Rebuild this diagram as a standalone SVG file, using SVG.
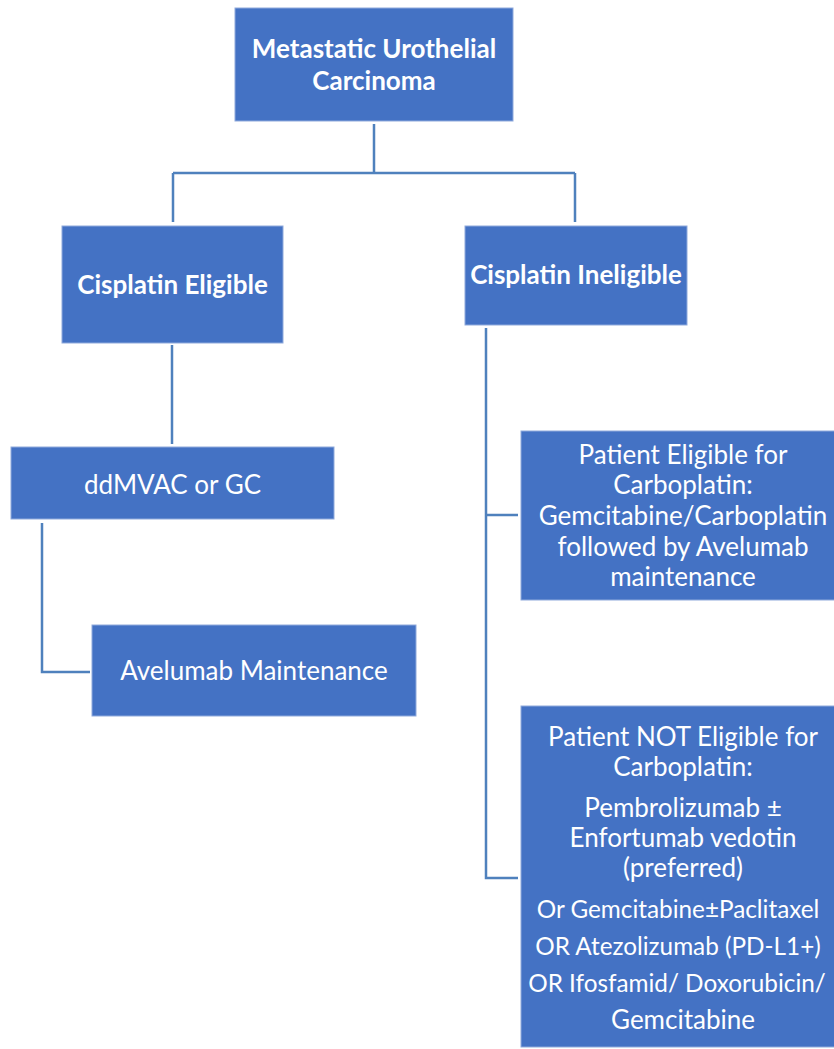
<svg xmlns="http://www.w3.org/2000/svg" width="834" height="1049" viewBox="0 0 834 1049">
<style>
.box{fill:#4472C4;stroke:#8FAADC;stroke-width:1}
.t{font-family:Lato,"Open Sans",sans-serif;font-size:26px;fill:#fff;text-anchor:middle}
.s{font-size:24.3px}
.b{font-weight:bold}
.c{fill:none;stroke:#4F81BD;stroke-width:2.5}
</style>
<rect width="834" height="1049" fill="#fff"/>
<g id="connectors">
<path class="c" d="M374,124 V173 M173,173 H575 M173,173 V222 M575,173 V222"/>
<path class="c" d="M172,345 V444"/>
<path class="c" d="M42,523 V672 H90"/>
<path class="c" d="M486,328 V878 H518 M486,515 H518"/>
</g>
<g id="n1"><rect class="box" x="235" y="8" width="278" height="113"/>
<text class="t b" x="374" y="58">Metastatic Urothelial</text><text class="t b" x="374" y="90">Carcinoma</text></g>
<g id="n2"><rect class="box" x="62" y="226" width="221" height="117"/>
<text class="t b" x="172.5" y="294">Cisplatin Eligible</text></g>
<g id="n3"><rect class="box" x="465" y="226" width="222" height="99"/>
<text class="t b" x="576" y="284">Cisplatin Ineligible</text></g>
<g id="n4"><rect class="box" x="11" y="447" width="323" height="72"/>
<text class="t" x="172.5" y="494">ddMVAC or GC</text></g>
<g id="n5"><rect class="box" x="92" y="625" width="324" height="91"/>
<text class="t" x="254" y="680">Avelumab Maintenance</text></g>
<g id="n6"><rect class="box" x="521" y="431" width="324" height="169"/>
<text class="t" x="683" y="464">Patient Eligible for</text>
<text class="t" x="683" y="494">Carboplatin:</text>
<text class="t" x="683" y="525">Gemcitabine/Carboplatin</text>
<text class="t" x="683" y="556">followed by Avelumab</text>
<text class="t" x="683" y="586">maintenance</text></g>
<g id="n7"><rect class="box" x="521" y="706" width="324" height="341"/>
<text class="t" x="683" y="746">Patient NOT Eligible for</text>
<text class="t" x="683" y="776">Carboplatin:</text>
<text class="t" x="683" y="817">Pembrolizumab ±</text>
<text class="t" x="683" y="847">Enfortumab vedotin</text>
<text class="t" x="683" y="877">(preferred)</text>
<text class="t s" x="678" y="918">Or Gemcitabine±Paclitaxel</text>
<text class="t s" x="678" y="955">OR Atezolizumab (PD-L1+)</text>
<text class="t s" x="677" y="992">OR Ifosfamid/ Doxorubicin/</text>
<text class="t" x="683" y="1029">Gemcitabine</text></g>
</svg>
